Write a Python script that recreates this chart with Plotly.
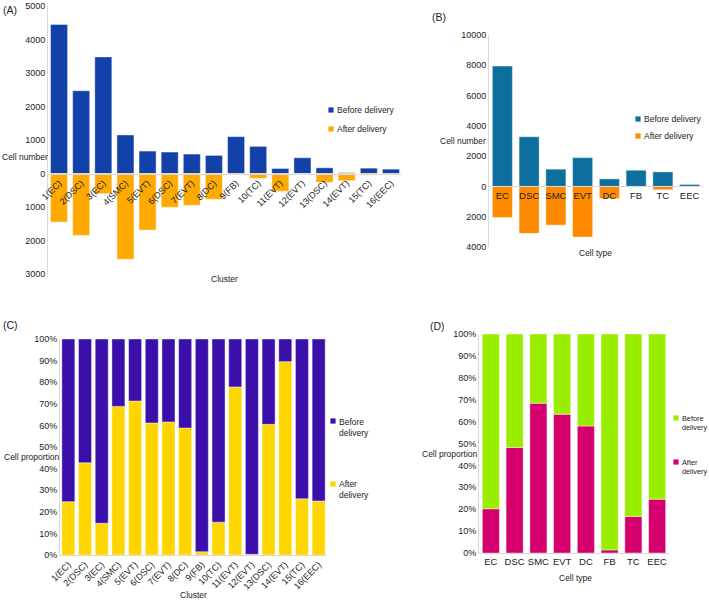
import plotly.graph_objects as go

W, H = 709, 602

# ---------------- data ----------------
clusters = ["1(EC)", "2(DSC)", "3(EC)", "4(SMC)", "5(EVT)", "6(DSC)", "7(EVT)", "8(DC)",
            "9(FB)", "10(TC)", "11(EVT)", "12(EVT)", "13(DSC)", "14(EVT)", "15(TC)", "16(EEC)"]
cluster_before = [4450, 2470, 3480, 1150, 670, 640, 580, 540, 1100, 810, 150, 470, 170, 25, 160, 130]
cluster_after = [1450, 1850, 600, 2560, 1690, 1010, 950, 770, 20, 145, 530, 3, 265, 215, 50, 40]

cell_types = ["EC", "DSC", "SMC", "EVT", "DC", "FB", "TC", "EEC"]
type_before = [7950, 3280, 1140, 1900, 500, 1070, 960, 130]
type_after = [2050, 3100, 2555, 3340, 800, 20, 220, 40]

cluster_after_pct = [24.7, 42.7, 14.7, 68.8, 71.3, 61.1, 61.6, 58.8, 1.5, 15.2, 77.8, 0.3, 60.5, 89.5, 26.0, 25.0]
cluster_before_pct = [100 - v for v in cluster_after_pct]
type_after_pct = [20.2, 48.2, 68.4, 63.4, 58.0, 1.4, 16.7, 24.6]
type_before_pct = [100 - v for v in type_after_pct]

ticks_a = [-3000, -2000, -1000, 0, 1000, 2000, 3000, 4000, 5000]
ticks_b = [-4000, -2000, 0, 2000, 4000, 6000, 8000, 10000]
ticks_pct = [0, 10, 20, 30, 40, 50, 60, 70, 80, 90, 100]

series_names = ["Before delivery", "After delivery"]
series_names_2l = ["Before<br>delivery", "After<br>delivery"]

# ---------------- style ----------------
FONT = "Liberation Sans, Arial, sans-serif"
TXT = "#222222"
AXC = "#d9d9d9"
TICK_FS = 9
TITLE_FS = 8.5

colA = ["#1241AA", "#FFAA00"]
colB = ["#0E6F9E", "#FF8A00"]
colC = ["#3B0FAA", "#FFD500"]
colD = ["#99EE00", "#D5006D"]


def dx(a, b):
    return [a / W, b / W]


def dy(top, bottom):
    return [1 - bottom / H, 1 - top / H]


def px(x):
    return x / W


def py(y):
    return 1 - y / H


domA = (dx(48, 402), dy(6, 274))
domB = (dx(489, 703), dy(35, 247))
domC = (dx(60, 327), dy(339, 555))
domD = (dx(479, 669), dy(334, 553))

fig = go.Figure()

bar_line = dict(width=0.6, color="rgba(255,255,255,0.7)")

# Panel A
fig.add_trace(go.Bar(x=clusters, y=cluster_before, name=series_names[0], marker=dict(color=colA[0], line=bar_line),
                     xaxis="x", yaxis="y", showlegend=False, width=0.77))
fig.add_trace(go.Bar(x=clusters, y=[-v for v in cluster_after], name=series_names[1], marker=dict(color=colA[1], line=bar_line),
                     xaxis="x", yaxis="y", showlegend=False, width=0.77))
# Panel B
fig.add_trace(go.Bar(x=cell_types, y=type_before, name=series_names[0], marker=dict(color=colB[0], line=bar_line),
                     xaxis="x2", yaxis="y2", showlegend=False, width=0.75))
fig.add_trace(go.Bar(x=cell_types, y=[-v for v in type_after], name=series_names[1], marker=dict(color=colB[1], line=bar_line),
                     xaxis="x2", yaxis="y2", showlegend=False, width=0.75))
# Panel C
fig.add_trace(go.Bar(x=clusters, y=cluster_after_pct, name=series_names[1], marker=dict(color=colC[1], line=bar_line),
                     xaxis="x3", yaxis="y3", showlegend=False, width=0.78))
fig.add_trace(go.Bar(x=clusters, y=cluster_before_pct, name=series_names[0], marker=dict(color=colC[0], line=bar_line),
                     xaxis="x3", yaxis="y3", showlegend=False, width=0.78))
# Panel D
fig.add_trace(go.Bar(x=cell_types, y=type_after_pct, name=series_names[1], marker=dict(color=colD[1], line=bar_line),
                     xaxis="x4", yaxis="y4", showlegend=False, width=0.72))
fig.add_trace(go.Bar(x=cell_types, y=type_before_pct, name=series_names[0], marker=dict(color=colD[0], line=bar_line),
                     xaxis="x4", yaxis="y4", showlegend=False, width=0.72))

tickfont = dict(family=FONT, size=TICK_FS, color=TXT)


def yax(dom, rng, tv, tt, anchor):
    return dict(domain=dom, range=rng, tickvals=tv, ticktext=tt, showline=True, linecolor=AXC,
                linewidth=1, showgrid=False, zeroline=False, ticks="", tickfont=tickfont,
                anchor=anchor, fixedrange=True, automargin=False, ticklabeloverflow="allow")


def zero_pos(dom, rng):
    return dom[0] + (0 - rng[0]) / (rng[1] - rng[0]) * (dom[1] - dom[0])


rA = [-3000, 5000]
rB = [-4000, 10000]

layout = dict(
    width=W, height=H, margin=dict(l=0, r=0, t=0, b=0, pad=0, autoexpand=False),
    paper_bgcolor="white", plot_bgcolor="white",
    barmode="relative", bargap=0.2, showlegend=False,
    font=dict(family=FONT, size=TICK_FS, color=TXT),
    xaxis=dict(domain=domA[0], range=[-0.5, 15.5], anchor="free", position=zero_pos(domA[1], rA),
               showline=True, linecolor=AXC, tickangle=-45, ticks="", tickfont=tickfont,
               showgrid=False, zeroline=False, fixedrange=True, automargin=False),
    yaxis=yax(domA[1], rA, ticks_a, [str(abs(v)) for v in ticks_a], "x"),
    xaxis2=dict(domain=domB[0], range=[-0.5, 7.5], anchor="free", position=zero_pos(domB[1], rB),
                showline=True, linecolor=AXC, tickangle=0, ticks="", tickfont=dict(family=FONT, size=9.5, color=TXT),
                showgrid=False, zeroline=False, fixedrange=True, automargin=False),
    yaxis2=yax(domB[1], rB, ticks_b, [str(abs(v)) for v in ticks_b], "x2"),
    xaxis3=dict(domain=domC[0], range=[-0.5, 15.5], anchor="y3", showline=True, linecolor=AXC,
                tickangle=-45, ticks="", tickfont=tickfont, showgrid=False, zeroline=False,
                fixedrange=True, automargin=False),
    yaxis3=yax(domC[1], [0, 100], ticks_pct, [f"{v}%" for v in ticks_pct], "x3"),
    xaxis4=dict(domain=domD[0], range=[-0.5, 7.5], anchor="y4", showline=True, linecolor=AXC,
                tickangle=0, ticks="", tickfont=dict(family=FONT, size=9.5, color=TXT),
                showgrid=False, zeroline=False, fixedrange=True, automargin=False),
    yaxis4=yax(domD[1], [0, 100], ticks_pct, [f"{v}%" for v in ticks_pct], "x4"),
)

ann = []
shapes = []


def text(x, y, s, size=TITLE_FS, xanchor="center", yanchor="middle"):
    ann.append(dict(x=px(x), y=py(y), xref="paper", yref="paper", text=s, showarrow=False,
                    xanchor=xanchor, yanchor=yanchor, align="left",
                    font=dict(family=FONT, size=size, color=TXT)))


def legend_item(cx, cy, color, label, two_line=False, size=8.5):
    s = 2.6
    shapes.append(dict(type="rect", xref="paper", yref="paper", x0=px(cx - s), x1=px(cx + s),
                       y0=py(cy + s), y1=py(cy - s), fillcolor=color, line=dict(width=0)))
    if two_line:
        text(cx + 4, cy - 6.5, label, size, "left", "top")
    else:
        text(cx + 4, cy, label, size, "left", "middle")


# manual legends
legend_item(331, 110, colA[0], series_names[0])
legend_item(331, 129, colA[1], series_names[1])
legend_item(638, 119, colB[0], series_names[0])
legend_item(638, 136, colB[1], series_names[1])
legend_item(333, 421, colC[0], series_names_2l[0], True)
legend_item(333, 484, colC[1], series_names_2l[1], True)
legend_item(676, 418, colD[0], series_names_2l[0], True, 7.3)
legend_item(676, 462, colD[1], series_names_2l[1], True, 7.3)

text(1, 10, "(A)", 10.5, "left")
text(430, 17, "(B)", 10.5, "left")
text(1, 325, "(C)", 10.5, "left")
text(428, 326, "(D)", 10.5, "left")

text(0, 157, "Cell number", TITLE_FS, "left")
text(224, 279, "Cluster")
text(463, 141, "Cell number")
text(595, 253, "Cell type")
text(2, 457, "Cell proportion", TITLE_FS, "left")
text(193, 595, "Cluster")
text(450, 454, "Cell proportion")
text(575, 578, "Cell type")

layout["annotations"] = ann
layout["shapes"] = shapes
fig.update_layout(**layout)

fig.write_html("out.html", config={"displayModeBar": False},
               post_script="document.body.style.margin='0';document.body.style.overflow='hidden';")
